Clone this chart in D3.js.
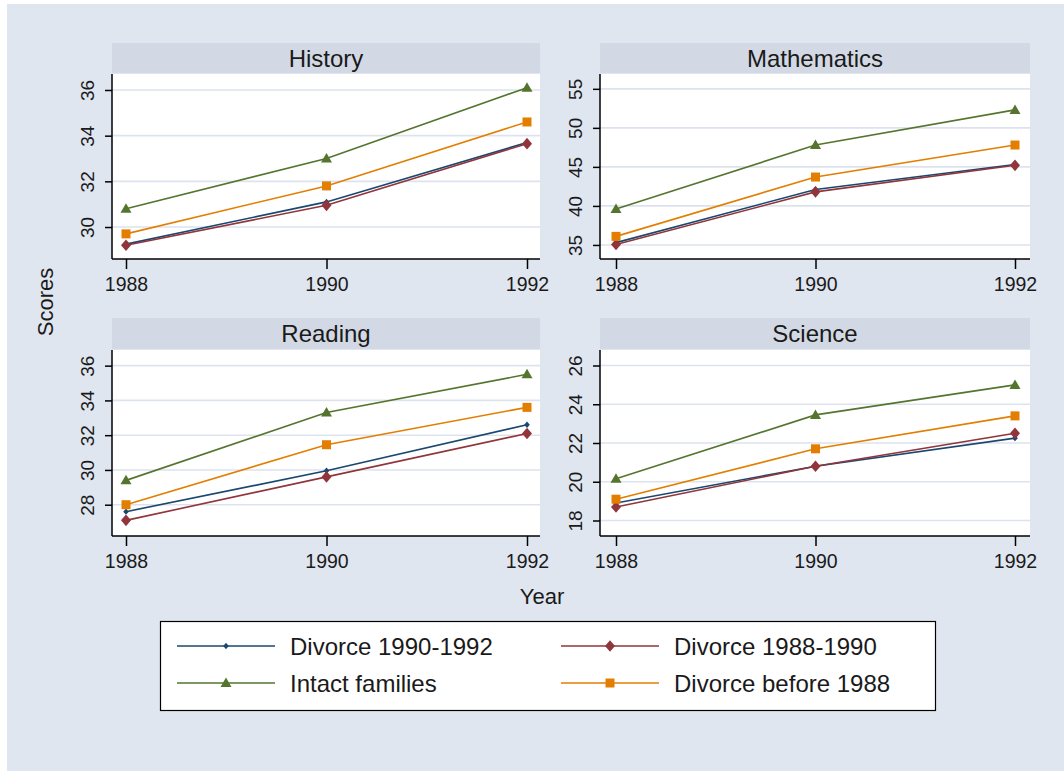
<!DOCTYPE html>
<html>
<head>
<meta charset="utf-8">
<script src="https://cdn.jsdelivr.net/npm/d3@7"></script>
<style>
  html, body { margin: 0; padding: 0; background: #ffffff; }
  svg { display: block; }
  text { font-family: "Liberation Sans", Arial, sans-serif; fill: #1a1a1a; }
</style>
</head>
<body>
<svg id="chart" width="1064" height="771"></svg>
<script>
// ---------- DATA ----------
const years = [1988, 1990, 1992];
const subjects = ["History", "Mathematics", "Reading", "Science"];
const seriesNames = ["Divorce 1990-1992", "Divorce 1988-1990", "Intact families", "Divorce before 1988"];

// values per subject (History, Mathematics, Reading, Science), per year
const divorce1990to1992 = [[29.25, 31.1, 33.7], [35.3, 42.1, 45.3], [27.6, 29.95, 32.6], [18.9, 20.8, 22.25]];
const divorce1988to1990 = [[29.2, 30.95, 33.65], [35.05, 41.8, 45.2], [27.1, 29.6, 32.1], [18.7, 20.8, 22.5]];
const intactFamilies    = [[30.8, 33.0, 36.1], [39.6, 47.8, 52.3], [29.4, 33.3, 35.5], [20.15, 23.45, 25.0]];
const divorceBefore1988 = [[29.7, 31.8, 34.6], [36.1, 43.7, 47.8], [28.0, 31.45, 33.6], [19.1, 21.7, 23.4]];

const historyTicks = [30, 32, 34, 36];
const mathTicks = [35, 40, 45, 50, 55];
const readingTicks = [28, 30, 32, 34, 36];
const scienceTicks = [18, 20, 22, 24, 26];
const yearTicks = [1988, 1990, 1992];

const yDomains = [[28.6, 36.7], [33.2, 56.9], [26.2, 36.9], [17.2, 26.8]];

// ---------- STYLE ----------
const seriesData = [divorce1990to1992, divorce1988to1990, intactFamilies, divorceBefore1988];
const seriesColors = ["#1a476f", "#90353b", "#55752f", "#e37e00"];
const seriesMarkers = ["smdiamond", "diamond", "triangle", "square"];
const tickSets = [historyTicks, mathTicks, readingTicks, scienceTicks];

const svg = d3.select("#chart");
const W = 1064, H = 771;

svg.append("rect").attr("x", 0).attr("y", 0).attr("width", W).attr("height", H).attr("fill", "#ffffff");
svg.append("rect").attr("x", 7).attr("y", 4).attr("width", W - 7).attr("height", H - 4).attr("fill", "#e0e6f0");

// panel geometry
const cols = [{ x0: 112, x1: 540, r0: 126, r1: 527 }, { x0: 600, x1: 1030, r0: 616, r1: 1015 }];
const rows = [{ s0: 43, s1: 73, p0: 74, p1: 259 }, { s0: 318, s1: 349, p0: 350, p1: 536 }];

function markerPath(type) {
  if (type === "diamond") return "M0,-5.8L5,0L0,5.8L-5,0Z";
  if (type === "smdiamond") return "M0,-3.2L2.8,0L0,3.2L-2.8,0Z";
  if (type === "triangle") return "M0,-5.5L5.5,4L-5.5,4Z";
  if (type === "square") return "M-4.5,-4.5L4.5,-4.5L4.5,4.5L-4.5,4.5Z";
  return "";
}

subjects.forEach((subj, i) => {
  const c = cols[i % 2], r = rows[Math.floor(i / 2)];
  const x = d3.scaleLinear().domain([1988, 1992]).range([c.r0, c.r1]);
  const y = d3.scaleLinear().domain(yDomains[i]).range([r.p1, r.p0]);
  const g = svg.append("g");

  // strip
  g.append("rect").attr("x", c.x0).attr("y", r.s0).attr("width", c.x1 - c.x0).attr("height", r.s1 - r.s0).attr("fill", "#d3d9e4");
  g.append("text").attr("x", (c.x0 + c.x1) / 2).attr("y", (r.s0 + r.s1) / 2).attr("dy", "0.36em")
    .attr("text-anchor", "middle").attr("font-size", 24).text(subj);

  // plot area
  g.append("rect").attr("x", c.x0).attr("y", r.p0).attr("width", c.x1 - c.x0).attr("height", r.p1 - r.p0).attr("fill", "#ffffff");

  // grid
  g.append("g").selectAll("line").data(tickSets[i]).join("line")
    .attr("x1", c.x0).attr("x2", c.x1)
    .attr("y1", d => y(d)).attr("y2", d => y(d))
    .attr("stroke", "#dde3ee").attr("stroke-width", 1.6);

  // y axis
  const ya = g.append("g").attr("transform", `translate(${c.x0},0)`)
    .call(d3.axisLeft(y).tickValues(tickSets[i]).tickSize(7).tickPadding(5).tickSizeOuter(0));
  ya.select(".domain").attr("d", `M0,${r.p0}V${r.p1}`).attr("stroke", "#000").attr("stroke-width", 1.5);
  ya.selectAll(".tick line").attr("stroke", "#000").attr("stroke-width", 1.5);
  ya.selectAll(".tick text").attr("font-size", 19).attr("fill", "#1a1a1a")
    .attr("font-family", "Liberation Sans, Arial, sans-serif")
    .attr("text-anchor", "middle").attr("transform", "rotate(-90)")
    .attr("x", 0).attr("dy", 0)
    .attr("y", -18);

  // x axis
  const xa = g.append("g").attr("transform", `translate(0,${r.p1})`)
    .call(d3.axisBottom(x).tickValues(yearTicks).tickFormat(d3.format("d")).tickSize(10).tickPadding(8).tickSizeOuter(0));
  xa.select(".domain").attr("d", `M${c.x0},0H${c.x1}`).attr("stroke", "#000").attr("stroke-width", 1.5);
  xa.selectAll(".tick line").attr("stroke", "#000").attr("stroke-width", 1.5);
  xa.selectAll(".tick text").attr("font-size", 19.5).attr("fill", "#1a1a1a")
    .attr("font-family", "Liberation Sans, Arial, sans-serif");

  // series
  const line = d3.line().x((d, k) => x(years[k])).y(d => y(d));
  seriesData.forEach((s, si) => {
    const vals = s[i];
    g.append("path").attr("d", line(vals)).attr("fill", "none")
      .attr("stroke", seriesColors[si]).attr("stroke-width", 1.6);
    g.append("g").selectAll("path").data(vals).join("path")
      .attr("transform", (d, k) => `translate(${x(years[k])},${y(d)})`)
      .attr("d", markerPath(seriesMarkers[si]))
      .attr("fill", seriesColors[si]);
  });
});

// axis titles
svg.append("text").attr("transform", "translate(45,302) rotate(-90)").attr("text-anchor", "middle")
  .attr("dy", "0.36em").attr("font-size", 22).text("Scores");
svg.append("text").attr("x", 542).attr("y", 596).attr("text-anchor", "middle")
  .attr("dy", "0.36em").attr("font-size", 22).text("Year");

// legend
const lg = svg.append("g");
lg.append("rect").attr("x", 160.5).attr("y", 621.5).attr("width", 775).attr("height", 89)
  .attr("fill", "#ffffff").attr("stroke", "#000").attr("stroke-width", 1.2);
const legendPos = [
  { lx: 177, ly: 646 }, { lx: 561, ly: 646 },
  { lx: 177, ly: 683 }, { lx: 561, ly: 683 }
];
seriesNames.forEach((name, si) => {
  const p = legendPos[si];
  lg.append("line").attr("x1", p.lx).attr("x2", p.lx + 98).attr("y1", p.ly).attr("y2", p.ly)
    .attr("stroke", seriesColors[si]).attr("stroke-width", 1.6);
  lg.append("path").attr("transform", `translate(${p.lx + 49},${p.ly})`)
    .attr("d", markerPath(seriesMarkers[si])).attr("fill", seriesColors[si]);
  lg.append("text").attr("x", p.lx + 113).attr("y", p.ly).attr("dy", "0.36em")
    .attr("font-size", 24).text(name);
});
</script>
</body>
</html>
